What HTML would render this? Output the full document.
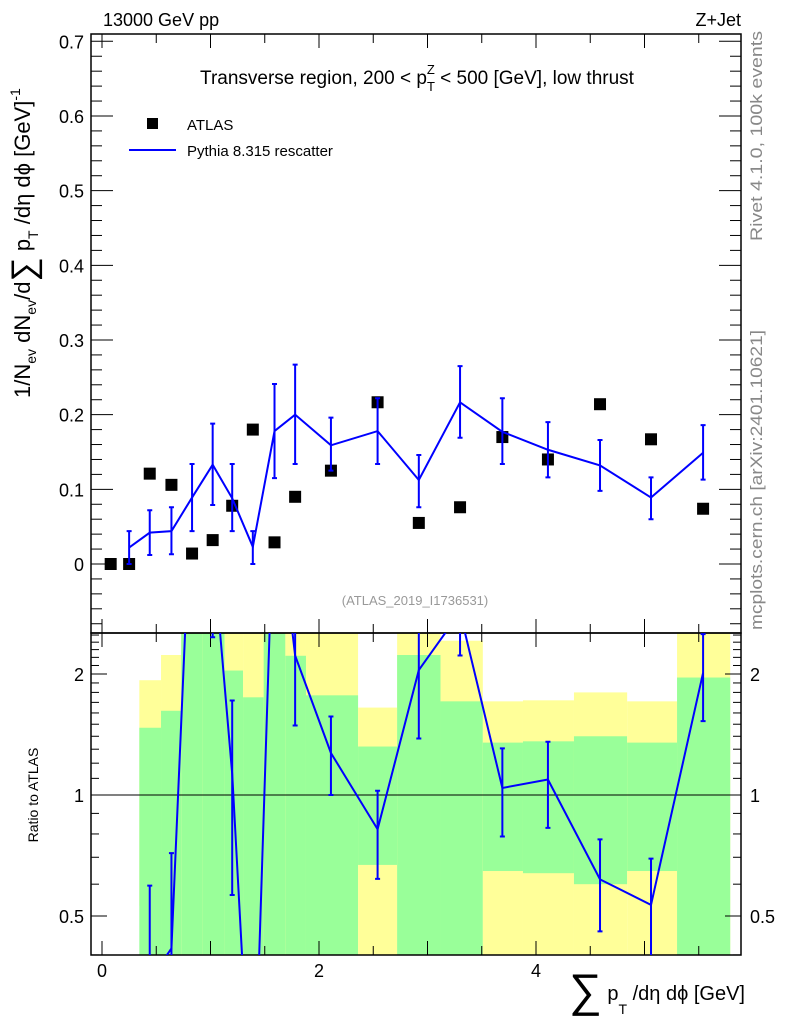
<!DOCTYPE html>
<html><head><meta charset="utf-8"><style>
body{margin:0;background:#fff;overflow:hidden;}
svg{display:block;font-family:"Liberation Sans",Arial,sans-serif;}
</style></head><body>
<svg id="c" width="786" height="1024" viewBox="0 0 786 1024">
<g id="ratioBands"></g>
<g id="grid"></g>
<text x="103" y="26" font-size="18">13000 GeV pp</text>
<text x="741" y="26" font-size="18" text-anchor="end">Z+Jet</text>
<text x="417" y="84" font-size="19" text-anchor="middle">Transverse region, 200 &lt; p<tspan font-size="13" dy="7">T</tspan><tspan font-size="13" dx="-8" dy="-17">Z</tspan><tspan dy="10"> &lt; 500 [GeV], low thrust</tspan></text>
<rect x="147" y="118" width="11" height="11" fill="#000"/>
<text x="187" y="130" font-size="15">ATLAS</text>
<line x1="129" y1="150" x2="176" y2="150" stroke="#0000ff" stroke-width="2"/>
<text x="187" y="156" font-size="15">Pythia 8.315 rescatter</text>
<text x="415" y="605" font-size="13" fill="#999" text-anchor="middle">(ATLAS_2019_I1736531)</text>
<text transform="translate(762,241) rotate(-90)" font-size="17" fill="#888" textLength="210" lengthAdjust="spacingAndGlyphs">Rivet 4.1.0,  100k events</text>
<text transform="translate(762,630) rotate(-90)" font-size="17" fill="#888" textLength="300" lengthAdjust="spacingAndGlyphs">mcplots.cern.ch [arXiv:2401.10621]</text>
<text transform="translate(30,398) rotate(-90)" font-size="22">1/N<tspan font-size="14" dy="6">ev</tspan><tspan dy="-6"> dN</tspan><tspan font-size="14" dy="6">ev</tspan><tspan dy="-6">/d</tspan><tspan font-size="34" dy="5">∑</tspan><tspan dy="-5"> p</tspan><tspan font-size="14" dy="8">T</tspan><tspan dy="-8"> /dη dϕ  [GeV]</tspan><tspan font-size="14" dy="-10">-1</tspan></text>
<text transform="translate(38,795) rotate(-90)" font-size="14" text-anchor="middle">Ratio to ATLAS</text>
<text x="745" y="1000" font-size="20" text-anchor="end"><tspan font-size="46" dy="6">∑</tspan><tspan dy="-6"> p</tspan><tspan font-size="14" dy="14">T</tspan><tspan dy="-14"> /dη dϕ [GeV]</tspan></text>
<g id="marks"></g>
</svg>
<script>
const binEdges=[0,0.17,0.344,0.544,0.73,0.93,1.13,1.30,1.49,1.69,1.88,2.36,2.72,3.12,3.51,3.88,4.35,4.84,5.30,5.79];
const xCenters=[0.08,0.25,0.44,0.64,0.83,1.02,1.20,1.39,1.59,1.78,2.11,2.54,2.92,3.30,3.69,4.11,4.59,5.06,5.54];
const dataVals=[0,0,0.121,0.106,0.014,0.032,0.078,0.180,0.029,0.090,0.125,0.2166,0.055,0.076,0.170,0.140,0.214,0.167,0.074];
const mcVals=[null,0.022,0.042,0.044,0.089,0.133,0.088,0.023,0.178,0.200,0.159,0.178,0.1125,0.2165,0.177,0.153,0.132,0.089,0.149];
const mcHi=[null,0.044,0.072,0.076,0.134,0.188,0.134,0.044,0.241,0.267,0.196,0.222,0.146,0.265,0.222,0.190,0.166,0.116,0.186];
const mcLo=[null,0,0.012,0.013,0.044,0.079,0.044,0,0.115,0.134,0.125,0.134,0.076,0.169,0.134,0.116,0.098,0.060,0.113];
const yellowHi=[null,null,1.93,2.23,9,9,9,9,9,9,9,1.65,9,2.42,1.71,1.72,1.80,1.71,9];
const greenHi=[null,null,1.47,1.62,9,9,2.04,1.75,9,2.22,1.77,1.32,2.23,1.71,1.35,1.36,1.40,1.35,1.96];
const greenLo=[null,null,0.1,0.1,0.1,0.1,0.1,0.1,0.1,0.1,0.1,0.67,0.1,0.1,0.647,0.639,0.60,0.647,0.1];
const yellowLo=[null,null,0.53,0.1,0.1,0.1,0.1,0.1,0.1,0.1,0.1,0.1,0.1,0.1,0.1,0.1,0.1,0.1,0.1];
const mainTicks=[0,0.1,0.2,0.3,0.4,0.5,0.6,0.7];
const xTicks=[0,2,4];
const ratioTicks=[0.5,1,2];

const NS="http://www.w3.org/2000/svg";
const L=91,R=741,T1=34,B1=633,T2=633,B2=955;
const X=v=>102+v*108.5;
const Y=v=>564-v*746.7;
const YR=r=>{let y=795-121*Math.log2(r);return Math.max(T2,Math.min(B2,y));};
function mk(tag,attrs,parent){const e=document.createElementNS(NS,tag);for(const k in attrs)e.setAttribute(k,attrs[k]);parent.appendChild(e);return e;}
const svg=document.getElementById('c');
const bands=document.getElementById('ratioBands');
const grid=document.getElementById('grid');
const marks=document.getElementById('marks');

for(let i=0;i<binEdges.length-1;i++){
  if(yellowHi[i]===null)continue;
  const x0=X(binEdges[i]),x1=X(binEdges[i+1]);
  const yb=mk('rect',{x:x0,y:YR(yellowHi[i]),width:x1-x0,height:YR(yellowLo[i])-YR(yellowHi[i]),fill:'#ffff99'},bands);
  
  
  const gb=mk('rect',{x:x0,y:YR(greenHi[i]),width:x1-x0,height:YR(greenLo[i])-YR(greenHi[i]),fill:'#99ff99'},bands);
  
  
}
const f1=mk('rect',{x:L,y:T1,width:R-L,height:B1-T1,fill:'none',stroke:'#000','stroke-width':1.5},grid);


const f2=mk('rect',{x:L,y:T2,width:R-L,height:B2-T2,fill:'none',stroke:'#000','stroke-width':1.5},grid);


mk('line',{x1:L,x2:R,y1:YR(1),y2:YR(1),stroke:'#000','stroke-width':1},grid);
for(let k=0;k<=12;k++){
  const v=k/2,x=X(v);if(x>R)break;
  const len=(k%2===0)?14:9;
  for(const [t,b] of [[T1,B1],[T2,B2]]){
    mk('line',{x1:x,x2:x,y1:t,y2:t+len,stroke:'#000'},grid);
    mk('line',{x1:x,x2:x,y1:b,y2:b-len,stroke:'#000'},grid);
  }
}
for(const v of xTicks){const t=mk('text',{x:X(v),y:977,'font-size':18,'text-anchor':'middle'},grid);t.textContent=v;

}
for(let k=-4;k<=35;k++){
  const v=k*0.02,y=Y(v);if(y<T1||y>B1)continue;
  const len=(k%5===0)?22:11;
  mk('line',{x1:L,x2:L+len,y1:y,y2:y,stroke:'#000'},grid);
  mk('line',{x1:R,x2:R-len,y1:y,y2:y,stroke:'#000'},grid);
}
for(const v of mainTicks){const t=mk('text',{x:84,y:Y(v)+7,'font-size':18,'text-anchor':'end'},grid);t.textContent=v===0?'0':v.toFixed(1);

}
const minor=[0.4,0.6,0.7,0.8,0.9,1.1,1.2,1.3,1.4,1.5,1.6,1.7,1.8,1.9,2.1,2.2,2.3,2.4,2.5];
for(const v of minor){const y=795-121*Math.log2(v);if(y<T2||y>B2)continue;
  mk('line',{x1:L,x2:L+8,y1:y,y2:y,stroke:'#000'},grid);mk('line',{x1:R,x2:R-8,y1:y,y2:y,stroke:'#000'},grid);}
for(const v of ratioTicks){const y=YR(v);
  mk('line',{x1:L,x2:L+16,y1:y,y2:y,stroke:'#000'},grid);mk('line',{x1:R,x2:R-16,y1:y,y2:y,stroke:'#000'},grid);
  const t=mk('text',{x:84,y:y+7,'font-size':18,'text-anchor':'end'},grid);t.textContent=v;
  
  
  const t2=mk('text',{x:750,y:y+7,'font-size':18},grid);t2.textContent=v;
  
  }
for(let i=0;i<xCenters.length;i++){
  const r=mk('rect',{x:X(xCenters[i])-6,y:Y(dataVals[i])-6,width:12,height:12,fill:'#000'},marks);
  
  
}
let pts=[];
for(let i=0;i<xCenters.length;i++){if(mcVals[i]===null)continue;pts.push(X(xCenters[i])+','+Y(mcVals[i]));
  const x=X(xCenters[i]);
  const e=mk('path',{d:`M${x},${Y(mcHi[i])}V${Y(mcLo[i])}M${x-2.5},${Y(mcHi[i])}h5M${x-2.5},${Y(mcLo[i])}h5`,stroke:'#0000ff','stroke-width':2,fill:'none'},marks);
  
  }
const pl=mk('polyline',{points:pts.join(' '),fill:'none',stroke:'#0000ff','stroke-width':2},marks);


const clip=mk('clipPath',{id:'rc'},svg);mk('rect',{x:L,y:T2,width:R-L,height:B2-T2},clip);
const rg=mk('g',{'clip-path':'url(#rc)'},marks);
let rp=[];
for(let i=0;i<xCenters.length;i++){
  if(mcVals[i]===null||dataVals[i]===0)continue;
  const d=dataVals[i],x=X(xCenters[i]);
  rp.push(x+','+(795-121*Math.log2(mcVals[i]/d)));
  const hi=795-121*Math.log2(mcHi[i]/d),lo=mcLo[i]>0?795-121*Math.log2(mcLo[i]/d):2000;
  const e=mk('path',{d:`M${x},${hi}V${lo}M${x-2.5},${hi}h5M${x-2.5},${lo}h5`,stroke:'#0000ff','stroke-width':2,fill:'none'},rg);
  
  
}
const rl=mk('polyline',{points:rp.join(' '),fill:'none',stroke:'#0000ff','stroke-width':2},rg);


</script>
</body></html>
